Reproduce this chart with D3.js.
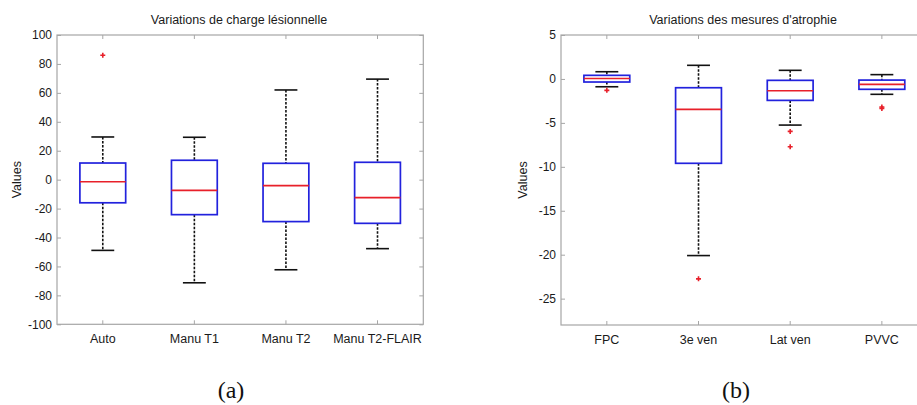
<!DOCTYPE html>
<html><head><meta charset="utf-8">
<script src="https://cdn.jsdelivr.net/npm/d3@7"></script>
<style>body{margin:0;background:#fff}svg{display:block}</style>
</head><body><svg id="c" width="917" height="405"></svg>
<script>
// Panel (a)
const catsA = ["Auto", "Manu T1", "Manu T2", "Manu T2-FLAIR"];
const lowA  = [-48.9, -71.3, -62.3, -47.7];
const q1A   = [-16.0, -24.2, -29.0, -30.2];
const medA  = [-1.4, -7.4, -4.1, -12.4];
const q3A   = [11.5, 13.4, 11.3, 12.0];
const highA = [29.5, 29.3, 62.0, 69.5];
const outA  = [[86], [], [], []];
const ticksA = [-100, -80, -60, -40, -20, 0, 20, 40, 60, 80, 100];
// Panel (b)
const catsB = ["FPC", "3e ven", "Lat ven", "PVVC"];
const lowB  = [-0.89, -20.1, -5.25, -1.75];
const q1B   = [-0.35, -9.6, -2.44, -1.18];
const medB  = [0.05, -3.46, -1.34, -0.62];
const q3B   = [0.41, -1.0, -0.16, -0.13];
const highB = [0.82, 1.55, 0.98, 0.49];
const outB  = [[-1.3], [-22.75], [-5.97, -7.72], [-3.2, -3.35]];
const ticksB = [-25, -20, -15, -10, -5, 0, 5];

const svg = d3.select("#c");
const SANS = "'Liberation Sans', Arial, sans-serif";

function panel(o) {
  const g = svg.append("g");
  const x = d3.scaleBand().domain(o.cats).range([o.x0, o.x1]);
  const y = d3.scaleLinear().domain(o.domain).range([o.y1, o.y0]);
  const bw = x.bandwidth() * 0.5;
  const cx = c => x(c) + x.bandwidth() / 2;
  const frame = "#a6a6a6";
  g.append("rect").attr("x", o.x0).attr("y", o.y0).attr("width", o.x1 - o.x0).attr("height", o.y1 - o.y0)
    .attr("fill", "none").attr("stroke", frame).attr("stroke-width", 1.2);
  const ya = g.append("g").attr("transform", `translate(${o.x0},0)`)
    .call(d3.axisLeft(y).tickValues(o.ticks).tickSize(-4).tickPadding(5).tickFormat(d => String(d)));
  ya.select(".domain").remove();
  ya.selectAll("line").attr("stroke", frame);
  ya.selectAll("text").style("font-family", SANS).style("font-size", "12px").attr("fill", "#1a1a1a");
  const yr = g.append("g").attr("transform", `translate(${o.x1},0)`)
    .call(d3.axisRight(y).tickValues(o.ticks).tickSize(-4).tickFormat(""));
  yr.select(".domain").remove(); yr.selectAll("line").attr("stroke", frame);
  const xa = g.append("g").attr("transform", `translate(0,${o.y1})`)
    .call(d3.axisBottom(x).tickSize(-4).tickPadding(10));
  xa.select(".domain").remove();
  xa.selectAll("line").attr("stroke", frame);
  xa.selectAll("text").style("font-family", SANS).style("font-size", "12.5px").attr("fill", "#1a1a1a");
  const xt = g.append("g").attr("transform", `translate(0,${o.y0})`)
    .call(d3.axisTop(x).tickSize(-4).tickFormat(""));
  xt.select(".domain").remove(); xt.selectAll("line").attr("stroke", frame);
  g.append("text").attr("x", o.titleX).attr("y", o.y0 - 11).attr("text-anchor", "middle")
    .style("font-family", SANS).style("font-size", "12.5px").attr("fill", "#1a1a1a").text(o.title);
  g.append("text").attr("transform", `translate(${o.ylabX},${(o.y0 + o.y1) / 2}) rotate(-90)`)
    .attr("text-anchor", "middle").style("font-family", SANS).style("font-size", "12.5px").attr("fill", "#1a1a1a").text("Values");
  g.append("text").attr("x", o.labX).attr("y", 398).attr("text-anchor", "middle")
    .style("font-family", "'Liberation Serif', 'DejaVu Serif', serif").style("font-size", "24px").attr("fill", "#111").text(o.lab);
  o.cats.forEach((c, i) => {
    const X = cx(c);
    g.append("line").attr("x1", X).attr("x2", X).attr("y1", y(o.high[i])).attr("y2", y(o.q3[i]))
      .attr("stroke", "#111").attr("stroke-width", 1.6).attr("stroke-dasharray", "2.5,1.5");
    g.append("line").attr("x1", X).attr("x2", X).attr("y1", y(o.q1[i])).attr("y2", y(o.low[i]))
      .attr("stroke", "#111").attr("stroke-width", 1.6).attr("stroke-dasharray", "2.5,1.5");
    [o.high[i], o.low[i]].forEach(v => g.append("line").attr("x1", X - bw / 4).attr("x2", X + bw / 4)
      .attr("y1", y(v)).attr("y2", y(v)).attr("stroke", "#111").attr("stroke-width", 1.6));
    g.append("rect").attr("x", X - bw / 2).attr("width", bw).attr("y", y(o.q3[i]))
      .attr("height", y(o.q1[i]) - y(o.q3[i])).attr("fill", "none").attr("stroke", "#2222dd").attr("stroke-width", 1.7);
    g.append("line").attr("x1", X - bw / 2).attr("x2", X + bw / 2).attr("y1", y(o.med[i])).attr("y2", y(o.med[i]))
      .attr("stroke", "#e8202a").attr("stroke-width", 1.6);
    o.out[i].forEach(v => {
      const Y = y(v);
      g.append("path").attr("d", `M${X - 2.5},${Y}H${X + 2.5}M${X},${Y - 2.5}V${Y + 2.5}`)
        .attr("stroke", "#e8202a").attr("stroke-width", 1.6);
    });
  });
}

panel({cats: catsA, low: lowA, q1: q1A, med: medA, q3: q3A, high: highA, out: outA, ticks: ticksA,
  domain: [-100, 100], x0: 57, x1: 423.3, y0: 35, y1: 324.3, title: "Variations de charge lésionnelle",
  titleX: 239, ylabX: 21, labX: 231, lab: "(a)"});
panel({cats: catsB, low: lowB, q1: q1B, med: medB, q3: q3B, high: highB, out: outB, ticks: ticksB,
  domain: [-28, 5], x0: 561, x1: 927.7, y0: 35, y1: 325, title: "Variations des mesures d'atrophie",
  titleX: 743, ylabX: 527, labX: 736, lab: "(b)"});
</script></body></html>
